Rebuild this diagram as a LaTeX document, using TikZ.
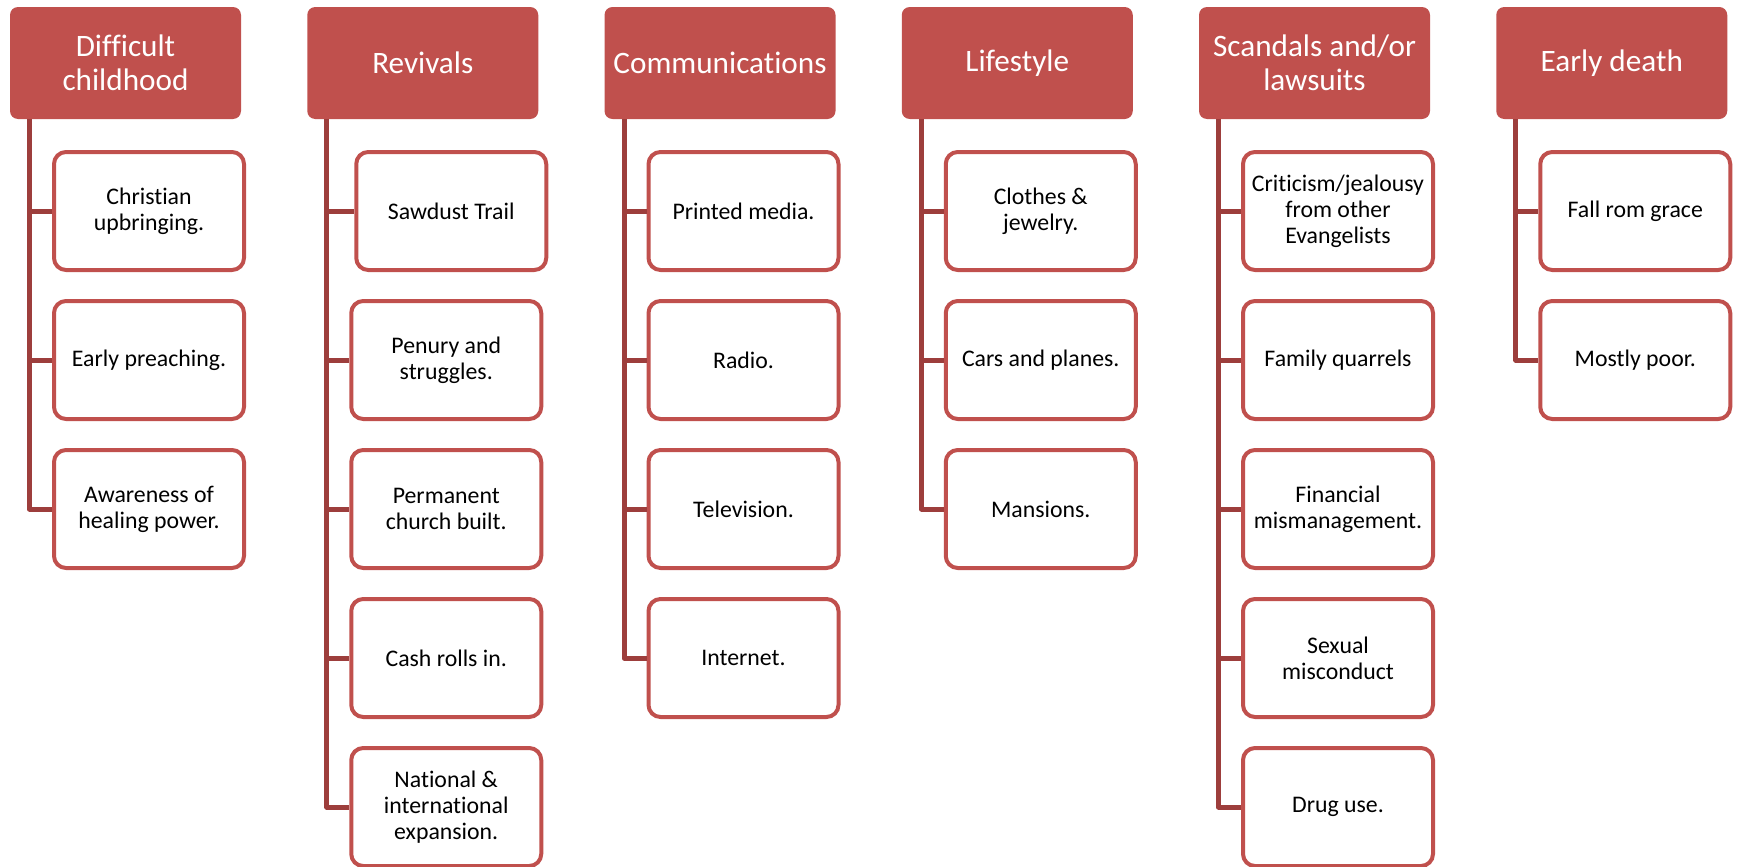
\documentclass[tikz,border=0pt]{standalone}
\usepackage{fontspec}
\setmainfont{Carlito}[Ligatures=NoCommon]
\usepackage{xcolor}
\usepackage{tikz}
\usetikzlibrary{positioning}
\definecolor{hdred}{HTML}{C0504D}
\definecolor{lnred}{HTML}{9D3E3C}

\begin{document}
\begin{tikzpicture}[x=0.5pt, y=-0.5pt,
    head/.style={fill=hdred, rounded corners=4pt, minimum width=115.5pt, minimum height=56pt, align=center, text=white, font=\fontsize{15.6}{17.1}\selectfont, inner sep=2pt},
    item/.style={draw=hdred, line width=2pt, fill=white, rounded corners=6pt, minimum width=95pt, minimum height=59pt, align=center, text=black, font=\fontsize{11.9}{13}\selectfont, inner sep=2pt},
    link/.style={draw=lnred, line width=2.5pt, line join=round}]
    \useasboundingbox (0,0) rectangle (1737,867);
    \node[head] (H1) at (125.5,63) {Difficult\\childhood};
    \node[head] (H2) at (422.75,63) {Revivals};
    \node[head] (H3) at (720,63) {Communications};
    \node[head] (H4) at (1017.25,63) {Lifestyle};
    \node[head] (H5) at (1314.5,63) {Scandals and/or\\lawsuits};
    \node[head] (H6) at (1611.75,63) {Early death};
    \node[item] (H11) at (149,211) {Christian\\upbringing.};
    \node[item] (H12) at (149,360) {Early preaching.};
    \node[item] (H13) at (149,509) {Awareness of\\healing power.};
    \node[item] (H21) at (451.25,211) {Sawdust Trail};
    \node[item] (H22) at (446.25,360) {Penury and\\struggles.};
    \node[item] (H23) at (446.25,509) {Permanent\\church built.};
    \node[item] (H24) at (446.25,658) {Cash rolls in.};
    \node[item] (H25) at (446.25,807) {National \&\\international\\expansion.};
    \node[item] (H31) at (743.5,211) {Printed media.};
    \node[item] (H32) at (743.5,360) {Radio.};
    \node[item] (H33) at (743.5,509) {Television.};
    \node[item] (H34) at (743.5,658) {Internet.};
    \node[item] (H41) at (1040.75,211) {Clothes \&\\jewelry.};
    \node[item] (H42) at (1040.75,360) {Cars and planes.};
    \node[item] (H43) at (1040.75,509) {Mansions.};
    \node[item] (H51) at (1338,211) {Criticism/jealousy\\from other\\Evangelists};
    \node[item] (H52) at (1338,360) {Family quarrels};
    \node[item] (H53) at (1338,509) {Financial\\mismanagement.};
    \node[item] (H54) at (1338,658) {Sexual\\misconduct};
    \node[item] (H55) at (1338,807) {Drug use.};
    \node[item] (H61) at (1635.25,211) {Fall rom grace};
    \node[item] (H62) at (1635.25,360) {Mostly poor.};
    \draw[link] ([xshift=10pt]H1.south west) |- (H13.west);
    \draw[link] ([xshift=10pt]H1.south west |- H11.west) -- (H11.west);
    \draw[link] ([xshift=10pt]H1.south west |- H12.west) -- (H12.west);
    \draw[link] ([xshift=10pt]H2.south west) |- (H25.west);
    \draw[link] ([xshift=10pt]H2.south west |- H21.west) -- (H21.west);
    \draw[link] ([xshift=10pt]H2.south west |- H22.west) -- (H22.west);
    \draw[link] ([xshift=10pt]H2.south west |- H23.west) -- (H23.west);
    \draw[link] ([xshift=10pt]H2.south west |- H24.west) -- (H24.west);
    \draw[link] ([xshift=10pt]H3.south west) |- (H34.west);
    \draw[link] ([xshift=10pt]H3.south west |- H31.west) -- (H31.west);
    \draw[link] ([xshift=10pt]H3.south west |- H32.west) -- (H32.west);
    \draw[link] ([xshift=10pt]H3.south west |- H33.west) -- (H33.west);
    \draw[link] ([xshift=10pt]H4.south west) |- (H43.west);
    \draw[link] ([xshift=10pt]H4.south west |- H41.west) -- (H41.west);
    \draw[link] ([xshift=10pt]H4.south west |- H42.west) -- (H42.west);
    \draw[link] ([xshift=10pt]H5.south west) |- (H55.west);
    \draw[link] ([xshift=10pt]H5.south west |- H51.west) -- (H51.west);
    \draw[link] ([xshift=10pt]H5.south west |- H52.west) -- (H52.west);
    \draw[link] ([xshift=10pt]H5.south west |- H53.west) -- (H53.west);
    \draw[link] ([xshift=10pt]H5.south west |- H54.west) -- (H54.west);
    \draw[link] ([xshift=10pt]H6.south west) |- (H62.west);
    \draw[link] ([xshift=10pt]H6.south west |- H61.west) -- (H61.west);
\end{tikzpicture}
\end{document}
